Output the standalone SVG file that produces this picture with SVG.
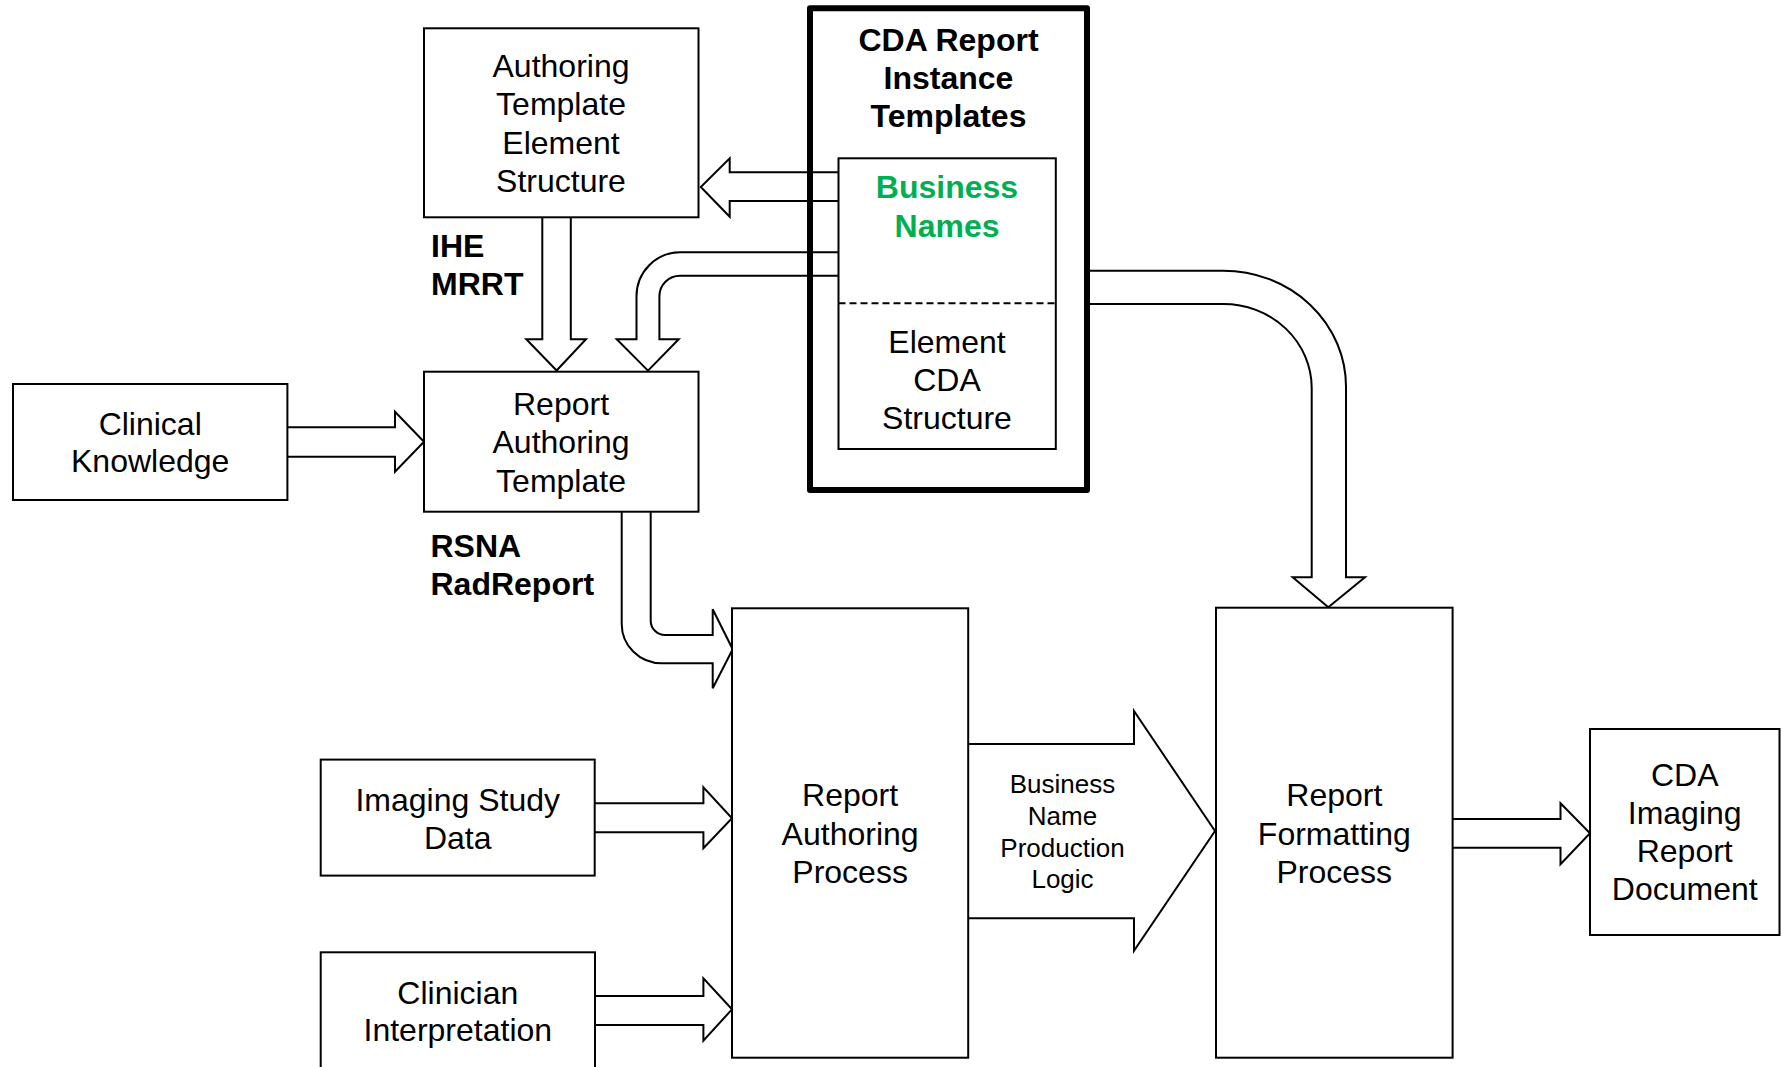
<svg xmlns="http://www.w3.org/2000/svg" width="1783" height="1067" viewBox="0 0 1783 1067">
<style>
.box{fill:#fff;stroke:#000;stroke-width:2}
.arr{fill:#fff;stroke:#000;stroke-width:2;stroke-linejoin:miter}
.t{font-family:"Liberation Sans",Arial,sans-serif;font-size:32px;text-anchor:middle;fill:#000}
.b{font-family:"Liberation Sans",Arial,sans-serif;font-size:32px;font-weight:bold;fill:#000}
.g{fill:#00B050}
.s{font-family:"Liberation Sans",Arial,sans-serif;font-size:26px;text-anchor:middle;fill:#000}
</style>
<rect width="1783" height="1067" fill="#fff"/>
<g id="connectors">
<path class="arr" d="M838.5,172.3 L729.7,172.3 L729.7,158.3 L700.8,187 L729.7,216.7 L729.7,201 L838.5,201"/>
<path class="arr" d="M838.5,252.3 L680,252.3 A43.5,44 0 0 0 636.5,296.3 L636.5,339.3 L616.7,339.3 L648,370.7 L678.7,339.3 L659.4,339.3 L659.4,296.3 A20.6,20.6 0 0 1 680,275.7 L838.5,275.7"/>
<path class="arr" d="M542.3,217.3 L542.3,339.3 L526.3,339.3 L556.6,370.5 L586,339.3 L570.8,339.3 L570.8,217.3"/>
<path class="arr" d="M287.4,427.3 L395,427.3 L395,411.7 L424,441.7 L395,471.7 L395,456.7 L287.4,456.7"/>
<path class="arr" d="M621.7,511.7 L621.7,624 A40,39.3 0 0 0 661.7,663.3 L712.7,663.3 L712.7,688.3 L732.7,649.3 L712.7,609.3 L712.7,635 L665,635 A14.3,14.3 0 0 1 650.7,620.7 L650.7,511.7"/>
<path class="arr" d="M594.7,803.3 L703.4,803.3 L703.4,787.3 L732,818.3 L703.4,848.3 L703.4,832.3 L594.7,832.3"/>
<path class="arr" d="M595,996 L703.4,996 L703.4,978.3 L732,1009.3 L703.4,1040.7 L703.4,1025 L595,1025"/>
<path class="arr" d="M968.2,744 L1134,744 L1134,711 L1215,831 L1134,950.7 L1134,918.3 L968.2,918.3"/>
<path class="arr" d="M1452.6,819 L1560.5,819 L1560.5,803.3 L1590,833.3 L1560.5,864.3 L1560.5,847.7 L1452.6,847.7"/>
<path class="arr" d="M1087,270.7 L1223.3,270.7 A122.7,116 0 0 1 1346,386.7 L1346,577.3 L1365,577.3 L1328.3,607.3 L1292.7,577.3 L1311.7,577.3 L1311.7,388 A88.4,84 0 0 0 1223.3,304 L1087,304"/>
</g>
<g id="cda-templates">
<rect x="810" y="8.3" width="277" height="481.7" fill="none" stroke="#000" stroke-width="6" stroke-linejoin="round"/>
<text class="b" x="948.5" y="51" text-anchor="middle">CDA Report</text>
<text class="b" x="948.5" y="89" text-anchor="middle">Instance</text>
<text class="b" x="948.5" y="127" text-anchor="middle">Templates</text>
</g>
<g id="business-names">
<rect x="838.5" y="158.3" width="217.3" height="290.7" fill="none" stroke="#000" stroke-width="2"/>
<line x1="838.5" y1="303.3" x2="1055.8" y2="303.3" stroke="#000" stroke-width="2" stroke-dasharray="7,4"/>
<text class="b g" x="947" y="198" text-anchor="middle">Business</text>
<text class="b g" x="947" y="237" text-anchor="middle">Names</text>
<text class="t" x="947" y="353">Element</text>
<text class="t" x="947" y="390.5">CDA</text>
<text class="t" x="947" y="428.5">Structure</text>
</g>
<g id="authoring-template-element-structure">
<rect class="box" x="424" y="28.3" width="274.5" height="189"/>
<text class="t" x="561" y="77">Authoring</text>
<text class="t" x="561" y="115.3">Template</text>
<text class="t" x="561" y="153.8">Element</text>
<text class="t" x="561" y="192">Structure</text>
</g>
<g id="ihe-mrrt">
<text class="b" x="431" y="257">IHE</text>
<text class="b" x="431" y="295">MRRT</text>
</g>
<g id="report-authoring-template">
<rect class="box" x="424" y="371.7" width="274.5" height="140"/>
<text class="t" x="561" y="415">Report</text>
<text class="t" x="561" y="453.3">Authoring</text>
<text class="t" x="561" y="491.7">Template</text>
</g>
<g id="rsna-radreport">
<text class="b" x="430.5" y="557">RSNA</text>
<text class="b" x="430.5" y="595">RadReport</text>
</g>
<g id="clinical-knowledge">
<rect class="box" x="13" y="384" width="274.4" height="116"/>
<text class="t" x="150.2" y="435">Clinical</text>
<text class="t" x="150.2" y="472">Knowledge</text>
</g>
<g id="imaging-study-data">
<rect class="box" x="320.7" y="759.6" width="274" height="116"/>
<text class="t" x="457.7" y="810.5">Imaging Study</text>
<text class="t" x="457.7" y="849">Data</text>
</g>
<g id="clinician-interpretation">
<rect class="box" x="320.7" y="952.3" width="274.3" height="130"/>
<text class="t" x="457.8" y="1003.5">Clinician</text>
<text class="t" x="457.8" y="1041">Interpretation</text>
</g>
<g id="report-authoring-process">
<rect class="box" x="732" y="608.3" width="236.2" height="449.4"/>
<text class="t" x="850.1" y="806">Report</text>
<text class="t" x="850.1" y="844.5">Authoring</text>
<text class="t" x="850.1" y="883">Process</text>
</g>
<g id="business-name-production-logic">
<text class="s" x="1062.5" y="793">Business</text>
<text class="s" x="1062.5" y="824.5">Name</text>
<text class="s" x="1062.5" y="856.5">Production</text>
<text class="s" x="1062.5" y="887.5">Logic</text>
</g>
<g id="report-formatting-process">
<rect class="box" x="1216" y="607.7" width="236.6" height="450"/>
<text class="t" x="1334.3" y="806">Report</text>
<text class="t" x="1334.3" y="844.5">Formatting</text>
<text class="t" x="1334.3" y="883">Process</text>
</g>
<g id="cda-imaging-report-document">
<rect class="box" x="1590" y="729" width="189.5" height="206"/>
<text class="t" x="1684.7" y="786">CDA</text>
<text class="t" x="1684.7" y="824">Imaging</text>
<text class="t" x="1684.7" y="862">Report</text>
<text class="t" x="1684.7" y="900">Document</text>
</g>
</svg>
